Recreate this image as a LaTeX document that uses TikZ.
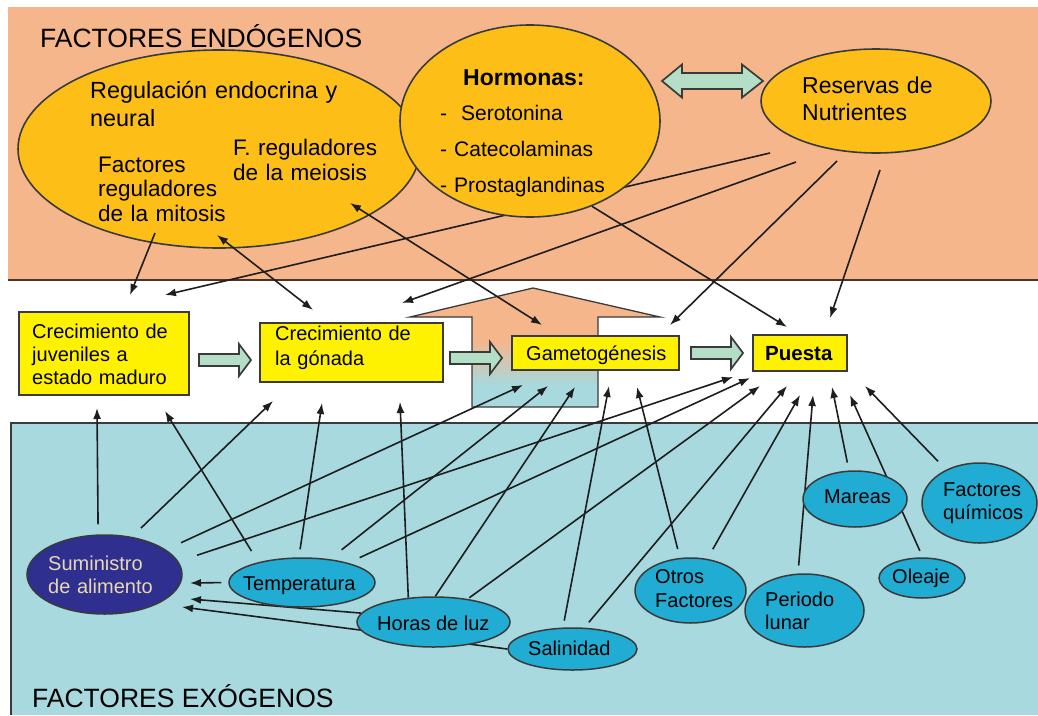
\documentclass[tikz,border=0pt]{standalone}
\usepackage{fontspec}
\setmainfont{Liberation Sans}
\usetikzlibrary{arrows.meta,shapes.geometric}
\definecolor{orangeB}{HTML}{F6B68C}
\definecolor{blueB}{HTML}{A7D9DE}
\definecolor{goldE}{HTML}{FCBE17}
\definecolor{yelB}{HTML}{FFF200}
\definecolor{cyanE}{HTML}{20ACD3}
\definecolor{navyE}{HTML}{2F2F8F}
\definecolor{beigeT}{HTML}{E8D8B0}
\definecolor{greenA}{HTML}{B5DEC6}
\definecolor{lineC}{HTML}{1E1E1E}
\definecolor{edgeC}{HTML}{3A3A3A}
\definecolor{bandL}{HTML}{4A3428}
\pgfdeclareverticalshading{bigarr}{100bp}{color(0bp)=(blueB); color(34bp)=(blueB); color(53bp)=(orangeB); color(100bp)=(orangeB)}
\pgfdeclarelayer{bg}
\pgfdeclarelayer{conn}
\pgfsetlayers{bg,conn,main}
\newcommand{\rblk}[4]{%
  \draw[blk] (#1,#4-6) -- (#2,#4-6) -- (#2,#4-16) -- (#3,#4) -- (#2,#4+16) -- (#2,#4+6) -- (#1,#4+6) -- cycle;}
\begin{document}
\begin{tikzpicture}[x=1pt,y=-1pt,
  arr/.style={draw=lineC, line width=1.6pt, -{Latex[length=11pt,width=8pt]}},
  darr/.style={draw=lineC, line width=1.6pt, {Latex[length=11pt,width=8pt]}-{Latex[length=11pt,width=8pt]}},
  endo/.style={ellipse, draw=edgeC, line width=1.6pt, fill=goldE, inner sep=0pt},
  exo/.style={ellipse, draw=edgeC, line width=1.5pt, fill=cyanE, inner sep=0pt},
  stage/.style={rectangle, draw=edgeC, line width=1.6pt, fill=yelB, inner sep=0pt},
  blk/.style={draw=edgeC, line width=1.7pt, fill=greenA, line join=miter},
  tE/.style={inner sep=0pt, anchor=base west, align=left, font=\fontsize{22.5}{27}\selectfont},
  tX/.style={inner sep=0pt, anchor=base west, align=left, font=\fontsize{20}{23.5}\selectfont},
  headT/.style={inner sep=0pt, anchor=base west, font=\fontsize{26.5}{30}\selectfont}]
\useasboundingbox (0,0) rectangle (1038,715);

% ---------- background bands ----------
\begin{pgfonlayer}{bg}
\fill[orangeB] (8,7) rectangle (1038,280);
\draw[line width=2pt, draw=bandL] (8,280) -- (1038,280);
\fill[blueB] (11,423) rectangle (1038,715);
\draw[line width=1.6pt, draw=edgeC] (11,715) -- (11,423) -- (1038,423);
\path[shade, shading=bigarr, draw=edgeC, line width=1.3pt]
  (410,317) -- (533,288) -- (660,317) -- (598,317) -- (598,407) -- (472,407) -- (472,317) -- cycle;
\end{pgfonlayer}

% ---------- endogenous ellipses ----------
\node[endo, minimum width=402, minimum height=198] (reg) at (219,149) {};
\node[endo, minimum width=260, minimum height=192] (horm) at (530,121) {};
\node[endo, minimum width=230, minimum height=104] (res) at (876,101) {};

% ---------- stage boxes ----------
\node[stage, minimum width=170, minimum height=83] (juv) at (104,353.5) {};
\node[stage, minimum width=183, minimum height=59] (gon) at (351.5,352.5) {};
\node[stage, minimum width=167, minimum height=34] (gam) at (595.5,353) {};
\node[stage, minimum width=94, minimum height=36] (pue) at (800,353) {};

% ---------- exogenous ellipses ----------
\node[exo, fill=navyE, minimum width=155, minimum height=79] (sum) at (104.5,574.5) {};
\node[exo, minimum width=146, minimum height=49] (tem) at (302,582.5) {};
\node[exo, minimum width=153, minimum height=50] (luz) at (433.5,622) {};
\node[exo, minimum width=129, minimum height=42] (sal) at (572.5,649) {};
\node[exo, minimum width=111, minimum height=65] (otr) at (690.5,590.5) {};
\node[exo, minimum width=119, minimum height=73] (per) at (804.5,610.5) {};
\node[exo, minimum width=104, minimum height=56] (mar) at (855,499) {};
\node[exo, minimum width=86, minimum height=40] (ole) at (922,578) {};
\node[exo, minimum width=115, minimum height=80] (qui) at (979.5,503) {};

% ---------- free ends ----------
\coordinate (r1) at (770,153);
\coordinate (r2) at (796,162);
\coordinate (r3) at (837,161);
\coordinate (r4) at (880,170);
\coordinate (mA) at (155,233);
\coordinate (mB) at (217,235);
\coordinate (mei) at (350,203);
\coordinate (tB1a) at (130,295);
\coordinate (tB1b) at (165,295);
\coordinate (tB2a) at (313,310);
\coordinate (tB2b) at (402,303);
\coordinate (tGa) at (542,325);
\coordinate (tGb) at (670,325);
\coordinate (tPa) at (787,327);
\coordinate (tPb) at (830,318);
\coordinate (uB1a) at (97,408);
\coordinate (uB1b) at (165,411);
\coordinate (uB2a) at (273,401);
\coordinate (uB2b) at (322,403);
\coordinate (uB2c) at (400,402);
\coordinate (uGa) at (523,385);
\coordinate (uGb) at (548,386);
\coordinate (uGc) at (575,387);
\coordinate (uGd) at (609,386);
\coordinate (uGe) at (637,387);
\coordinate (uPa) at (733,377);
\coordinate (uPb) at (750,378);
\coordinate (uPc) at (760,386);
\coordinate (uPd) at (787,386);
\coordinate (uPe) at (800,395);
\coordinate (uPf) at (813,395);
\coordinate (uPg) at (832,387);
\coordinate (uPh) at (850,395);
\coordinate (uPi) at (865,386);
\coordinate (uSa) at (190,583);
\coordinate (uSb) at (190,599);
\coordinate (uSc) at (182,607);

% ---------- connectors under the ellipses ----------
\begin{pgfonlayer}{conn}
\draw[arr] (r1) -- (tB1b);
\draw[arr] (r2) -- (tB2b);
\draw[arr] (r3) -- (tGb);
\draw[arr] (r4) -- (tPb);
\draw[arr] (horm.-54) -- (tPa);
% to juveniles
\draw[arr, shorten <=10pt] (sum.99.7) -- (uB1a);
\draw[arr, shorten <=13pt] (tem.155) -- (uB1b);
% to gonada
\draw[arr, shorten <=12.5pt] (sum.54.8) -- (uB2a);
\draw[arr, shorten <=8pt] (tem.97) -- (uB2b);
\draw[arr] (luz.136.7) -- (uB2c);
% to gametogenesis
\draw[arr, shorten <=16.5pt] (sum.22.6) -- (uGa);
\draw[arr, shorten <=15pt] (tem.40.5) -- (uGb);
\draw[arr] (luz.86.6) -- (uGc);
\draw[arr, shorten <=7pt] (sal.114.8) -- (uGd);
\draw[arr, shorten <=9pt] (otr.108.4) -- (uGe);
% to puesta
\draw[arr, shorten <=19.5pt] (sum.10.1) -- (uPa);
\draw[arr, shorten <=12.5pt] (tem.23.6) -- (uPb);
\draw[arr, shorten <=2pt] (luz.34.8) -- (uPc);
\draw[arr, shorten <=7pt] (sal.61.8) -- (uPd);
\draw[arr, shorten <=11pt] (otr.62) -- (uPe);
\draw[arr, shorten <=8pt] (per.100.8) -- (uPf);
\draw[arr, shorten <=8pt] (mar.102.5) -- (uPg);
\draw[arr, shorten <=7pt] (ole.88) -- (uPh);
\draw[arr, shorten <=11.5pt] (qui.135.3) -- (uPi);
% to suministro
\draw[arr, shorten <=7pt] (tem.west) -- (uSa);
\draw[arr] (luz.173.3) -- (uSb);
\draw[arr] (sal.west) -- (uSc);
\end{pgfonlayer}

% ---------- connectors inside the big ellipse ----------
\draw[arr] (mA) -- (tB1a);
\draw[darr] (mB) -- (tB2a);
\draw[darr] (mei) -- (tGa);

% ---------- block arrows ----------
\draw[blk] (662,81) -- (682,64.5) -- (682,73) -- (742,73) -- (742,64.5) -- (763,81) -- (742,97.5) -- (742,89) -- (682,89) -- (682,97.5) -- cycle;
\rblk{199}{239}{251}{360}
\rblk{450}{490}{502}{358}
\rblk{691}{731}{743}{353}

% ---------- texts ----------
\node[headT] (hEndo) at (40,47) {FACTORES ENDÓGENOS};
\node[headT] (hExo) at (32,707) {FACTORES EXÓGENOS};
\node[tE, text width=300, font=\fontsize{23.4}{28}\selectfont] (tReg) at (90,98) {Regulación endocrina y\\neural};
\node[tE, text width=140, font=\fontsize{22.5}{24.5}\selectfont] (tMit) at (98,172) {Factores\\reguladores\\de la mitosis};
\node[tE, text width=150, font=\fontsize{22.5}{25}\selectfont] (tMei) at (233,155) {F. reguladores\\de la meiosis};
\node[tE, font=\fontsize{23}{27}\bfseries] (tHorm) at (463,85) {Hormonas:};
\node[tE, text width=200, font=\fontsize{21}{36}\selectfont] (tHlist) at (440,120) {-\ \ Serotonina\\- Catecolaminas\\- Prostaglandinas};
\node[tE, text width=150, font=\fontsize{23}{27}\selectfont] (tRes) at (802,93) {Reservas de\\Nutrientes};
\node[tX, text width=160, font=\fontsize{20}{23}\selectfont] (tJuv) at (32,338) {Crecimiento de\\juveniles a\\estado maduro};
\node[tX, text width=160, font=\fontsize{20}{25}\selectfont] (tGon) at (275,340) {Crecimiento de\\la gónada};
\node[tX] (tGam) at (526,360) {Gametogénesis};
\node[tX, font=\fontsize{20.5}{24}\bfseries] (tPue) at (765,360) {Puesta};
\node[tX, text width=130, font=\fontsize{20}{23}\selectfont, text=beigeT] (tSum) at (48,570) {Suministro\\de alimento};
\node[tX] (tTem) at (243,590) {Temperatura};
\node[tX] (tLuz) at (377,630) {Horas de luz};
\node[tX] (tSal) at (528,655) {Salinidad};
\node[tX, text width=100, font=\fontsize{20}{24}\selectfont] (tOtr) at (655,583) {Otros\\Factores};
\node[tX, text width=100, font=\fontsize{20}{23}\selectfont] (tPer) at (765,606) {Periodo\\lunar};
\node[tX] (tMar) at (824,503) {Mareas};
\node[tX] (tOle) at (892,583) {Oleaje};
\node[tX, text width=100, font=\fontsize{20}{23}\selectfont] (tQui) at (943,496) {Factores\\químicos};
\end{tikzpicture}
\end{document}
